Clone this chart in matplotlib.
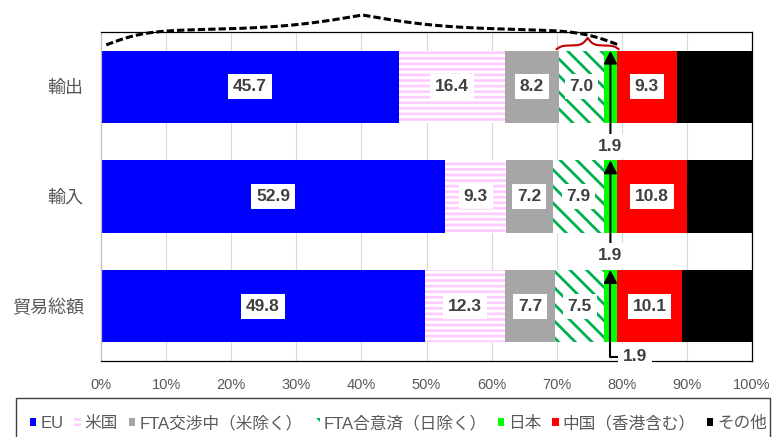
import numpy as np
import matplotlib.pyplot as plt
from matplotlib.patches import Rectangle

plt.rcParams['font.family'] = ['Liberation Sans', 'Noto Sans CJK JP']
plt.rcParams['hatch.linewidth'] = 2.0

categories = ['輸出', '輸入', '貿易総額']
partners = ['EU', '米国', 'FTA交渉中（米除く）', 'FTA合意済（日除く）',
            '日本', '中国（香港含む）', 'その他']
eu = [45.7, 52.9, 49.8]
usa = [16.4, 9.3, 12.3]
fta_talks = [8.2, 7.2, 7.7]
fta_agreed = [7.0, 7.9, 7.5]
japan = [1.9, 1.9, 1.9]
china = [9.3, 10.8, 10.1]
others = [11.5, 10.0, 10.7]
xticks = list(range(0, 101, 10))

series = [eu, usa, fta_talks, fta_agreed, japan, china, others]
styles = [
    dict(color='#0000FF'),
    dict(facecolor='white', edgecolor='#FFCCFF', hatch='---'),
    dict(color='#A6A6A6'),
    dict(facecolor='white', edgecolor='#00B050', hatch='\\\\'),
    dict(color='#00FF00'),
    dict(color='#FF0000'),
    dict(color='#000000'),
]
labelled = [0, 1, 2, 3, 5]
txt_color = '#404040'
label_font = dict(fontsize=12.5, fontweight='bold', color=txt_color)
label_box = dict(boxstyle='square,pad=0.28', fc='white', ec='none')


def brace(ax, x0, x1, y_end, y_flat, y_peak, b_end, b_mid, **kw):
    # curly brace opening downwards; x in data, y in axes fraction
    w = (x1 - x0) / 2
    t = np.linspace(0, w, 300)
    g1 = 2 / (1 + np.exp(-b_end * t)) - 1
    g2 = 2 / (1 + np.exp(-b_mid * (t - w)))
    half = y_end + (y_flat - y_end) * g1 + (y_peak - y_flat) * g2
    xs = np.concatenate([x0 + t, x1 - t[::-1]])
    ys = np.concatenate([half, half[::-1]])
    ax.plot(xs, ys, transform=ax.get_xaxis_transform(), clip_on=False,
            zorder=6, **kw)


fig = plt.figure(figsize=(7.72, 4.37), dpi=100)
ax = fig.add_axes([101 / 772, 76 / 437, 651 / 772, 329 / 437])

y = np.arange(len(categories))
left = np.zeros(len(categories))
starts = []
for k, (name, vals, st) in enumerate(zip(partners, series, styles)):
    vals = np.array(vals)
    ax.barh(y, vals, left=left, height=0.66, linewidth=0, label=name, **st)
    starts.append(left.copy())
    if k in labelled:
        for i in range(len(y)):
            ax.text(left[i] + vals[i] / 2, y[i], f'{vals[i]:.1f}',
                    ha='center', va='center', bbox=label_box, zorder=5,
                    **label_font)
    left = left + vals

# 日本 shares are too thin for an inside label -> arrows
jp_start = starts[4]
arrow = dict(arrowstyle='-|>,head_length=0.55,head_width=0.28', color='black',
             lw=1.5, shrinkA=0, shrinkB=0, mutation_scale=14)
for i in range(len(y)):
    xc = jp_start[i] + japan[i] / 2
    top = y[i] - 0.33
    if i < 2:
        ax.annotate(f'{japan[i]:.1f}', xy=(xc, top), xytext=(xc, y[i] + 0.54),
                    ha='center', va='center', bbox=label_box, zorder=5,
                    arrowprops=arrow, annotation_clip=False, **label_font)
    else:
        ax.annotate(f'{japan[i]:.1f}', xy=(xc, top),
                    xytext=(xc + 3.75, y[i] + 0.46),
                    ha='center', va='center', bbox=label_box, zorder=5,
                    arrowprops=dict(arrow, connectionstyle='angle,angleA=0,angleB=90,rad=0'),
                    annotation_clip=False, **label_font)

# braces over the 輸出 bar
end_jp = jp_start[0] + japan[0]
brace(ax, 0.8, end_jp + 0.3, 0.9605, 1.006, 1.0517, 0.33, 0.15,
      color='black', lw=2.2, linestyle=(0, (2.4, 1.0)))
brace(ax, starts[3][0] - 0.3, end_jp + 0.3, 0.948, 0.959, 0.982, 2.6, 2.3,
      color='#C00000', lw=1.5)

ax.set_xlim(0, 100)
ax.set_ylim(2.5, -0.5)
ax.set_xticks(xticks)
ax.set_xticklabels([f'{v}%' for v in xticks])
ax.set_yticks(y)
ax.set_yticklabels(categories)
ax.tick_params(axis='x', length=0, pad=12, labelsize=10.5, labelcolor='#595959')
ax.tick_params(axis='y', length=0, pad=12.5, labelsize=13, labelcolor='#595959')
ax.grid(axis='x', color='#D9D9D9', lw=0.8)
ax.set_axisbelow(True)
for side in ['top', 'right', 'bottom']:
    ax.spines[side].set_color('black')
    ax.spines[side].set_linewidth(0.9)
ax.spines['left'].set_color('#BFBFBF')
ax.spines['left'].set_linewidth(0.9)

handles, labels = ax.get_legend_handles_labels()
fig.legend(handles, labels, loc='center', bbox_to_anchor=(0.516, 0.032),
           ncol=7, frameon=False, fontsize=12, labelcolor='#595959',
           handlelength=0.38, handleheight=0.45, handletextpad=0.25,
           columnspacing=0.65, borderpad=0, borderaxespad=0)
fig.add_artist(Rectangle((16 / 772, -0.02), 754 / 772, 0.02 + 39 / 437,
                         transform=fig.transFigure, fill=False,
                         ec='#404040', lw=1))

fig.savefig('out.png', dpi=100)
